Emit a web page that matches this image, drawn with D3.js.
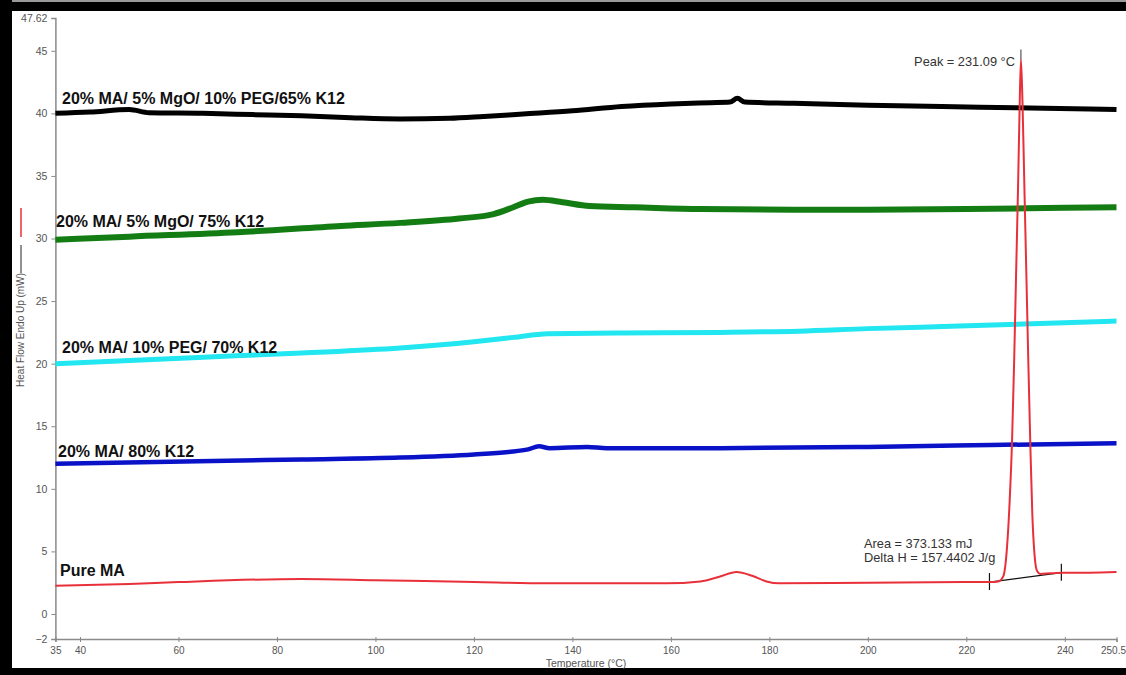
<!DOCTYPE html>
<html>
<head>
<meta charset="utf-8">
<script src="https://cdn.jsdelivr.net/npm/d3@7"></script>
<style>
  html, body { margin: 0; padding: 0; background: #fff; }
  svg { display: block; font-family: "Liberation Sans", Arial, sans-serif; }
</style>
</head>
<body>
<svg id="chart" width="1126" height="675"></svg>
<script>
// ---------- data ----------
const xTicks = [35, 40, 60, 80, 100, 120, 140, 160, 180, 200, 220, 240, 250.5];
const yTicks = [-2, 0, 5, 10, 15, 20, 25, 30, 35, 40, 45, 47.62];

const seriesNames = [
  "20% MA/ 5% MgO/ 10% PEG/65% K12",
  "20% MA/ 5% MgO/ 75% K12",
  "20% MA/ 10% PEG/ 70% K12",
  "20% MA/ 80% K12",
  "Pure MA"
];

const blackT = [35, 42, 50, 54, 65, 75, 85, 95, 105, 115, 122, 130, 140, 150, 160, 168, 172, 173.5, 175, 185, 200, 215, 230, 245, 250.5];
const blackV = [40.0, 40.1, 40.3, 40.05, 40.0, 39.9, 39.8, 39.65, 39.55, 39.6, 39.75, 39.95, 40.2, 40.55, 40.75, 40.85, 40.9, 41.2, 40.9, 40.8, 40.65, 40.55, 40.45, 40.35, 40.3];

const greenT = [35, 50, 72, 93, 105, 117, 124, 128, 131, 134, 138, 143.5, 152.5, 166, 185, 200, 220, 240, 250.5];
const greenV = [29.9, 30.15, 30.5, 31.0, 31.25, 31.6, 31.95, 32.5, 32.95, 33.1, 32.9, 32.6, 32.5, 32.35, 32.3, 32.3, 32.35, 32.45, 32.5];

const cyanT = [35, 64, 85, 105, 120, 128, 135, 150, 170, 186, 200, 218.5, 235, 250.5];
const cyanV = [20.0, 20.5, 20.85, 21.25, 21.75, 22.1, 22.4, 22.45, 22.5, 22.6, 22.8, 23.0, 23.2, 23.4];

const blueT = [35, 64, 85, 105, 120, 127, 131, 133.2, 135.4, 143, 147, 170, 200, 225, 250.5];
const blueV = [12.0, 12.2, 12.35, 12.5, 12.75, 12.95, 13.15, 13.4, 13.25, 13.35, 13.25, 13.25, 13.35, 13.5, 13.65];

const redT = [35, 50, 60, 85, 100, 120, 135, 159, 166, 170, 173.3, 176.5, 179.4, 182, 200, 222, 225, 226.5, 227.5, 228.2, 228.8, 229.3, 229.7, 230.1, 230.5, 230.8, 231.09, 231.4, 231.8, 232.2, 232.6, 233.0, 233.4, 233.8, 234.3, 235, 237, 240, 245, 250.5];
const redV = [2.25, 2.4, 2.55, 2.8, 2.7, 2.55, 2.45, 2.45, 2.6, 3.0, 3.35, 3.05, 2.6, 2.45, 2.5, 2.55, 2.55, 2.6, 3.0, 5.0, 9.0, 14.0, 20.0, 27.0, 34.0, 40.0, 44.3, 41.0, 34.0, 27.0, 20.0, 13.5, 8.0, 5.0, 3.5, 3.2, 3.25, 3.3, 3.3, 3.35];

const baselineT = [224.7, 239.3];
const baselineV = [2.55, 3.3];

const peakT = 231.09;
const peakLabel = "Peak = 231.09 °C";
const areaLabel = "Area = 373.133 mJ";
const deltaLabel = "Delta H = 157.4402 J/g";
const xTitle = "Temperature (°C)";
const yTitle = "Heat Flow Endo Up (mW)";

// ---------- layout ----------
const svg = d3.select("#chart");
const x = d3.scaleLinear().domain([35, 250.5]).range([55.4, 1116.5]);
const y = d3.scaleLinear().domain([-2, 47.62]).range([639, 18]);

// frame bands
svg.append("rect").attr("x", 0).attr("y", 0).attr("width", 1126).attr("height", 2).attr("fill", "#9a9a9a");
svg.append("rect").attr("x", 0).attr("y", 2).attr("width", 1126).attr("height", 9).attr("fill", "#000");
svg.append("rect").attr("x", 0).attr("y", 0).attr("width", 12).attr("height", 675).attr("fill", "#000");
svg.append("rect").attr("x", 0).attr("y", 668).attr("width", 1126).attr("height", 7).attr("fill", "#000");

// axes
const axisColor = "#8a8a8a";
const labelColor = "#555";

const yAxis = d3.axisLeft(y).tickValues(yTicks).tickSize(4).tickPadding(4)
  .tickFormat(d => d === 47.62 ? "47.62" : d3.format("d")(d));
const gy = svg.append("g").attr("transform", "translate(55.4,0)").call(yAxis);
gy.select(".domain").attr("stroke", axisColor).attr("stroke-width", 1.5);
gy.selectAll(".tick line").attr("stroke", axisColor);
gy.selectAll(".tick text").attr("fill", labelColor).style("font-size", "10.5px");

const xAxis = d3.axisBottom(x).tickValues(xTicks).tickSize(3).tickPadding(5)
  .tickFormat(d => d === 250.5 ? "250.5" : d3.format("d")(d));
const gx = svg.append("g").attr("transform", "translate(0,639)").call(xAxis);
gx.select(".domain").attr("stroke", axisColor).attr("stroke-width", 1.5);
gx.selectAll(".tick line").attr("stroke", axisColor).attr("y1", -2);
gx.selectAll(".tick text").attr("fill", labelColor).style("font-size", "10px");
// keep the last label inside the window
gx.selectAll(".tick text").filter(d => d === 250.5).attr("text-anchor", "end").attr("x", 9);

svg.append("text").attr("x", 586).attr("y", 667).attr("text-anchor", "middle")
  .attr("fill", labelColor).style("font-size", "10.5px").text(xTitle);

svg.append("text").attr("transform", "translate(24,330) rotate(-90)").attr("text-anchor", "middle")
  .attr("fill", labelColor).style("font-size", "10px").text(yTitle);

// small legend marks left of y axis
svg.append("line").attr("x1", 21).attr("x2", 21).attr("y1", 208).attr("y2", 237)
  .attr("stroke", "#e8303a").attr("stroke-width", 1.5);
svg.append("line").attr("x1", 21).attr("x2", 21).attr("y1", 245).attr("y2", 273)
  .attr("stroke", "#222").attr("stroke-width", 1);

// lines
const line = d3.line().x(d => x(d[0])).y(d => y(d[1])).curve(d3.curveMonotoneX);
const series = [
  { t: blackT, v: blackV, color: "#000000", w: 5 },
  { t: greenT, v: greenV, color: "#137d14", w: 6 },
  { t: cyanT, v: cyanV, color: "#22e6f0", w: 5 },
  { t: blueT, v: blueV, color: "#0a12c8", w: 4.5 },
];
series.forEach(s => {
  svg.append("path").datum(d3.zip(s.t, s.v)).attr("d", line)
    .attr("fill", "none").attr("stroke", s.color).attr("stroke-width", s.w)
    .attr("stroke-linejoin", "round");
});

// baseline for integration
svg.append("path").datum(d3.zip(baselineT, baselineV)).attr("d", d3.line().x(d => x(d[0])).y(d => y(d[1])))
  .attr("stroke", "#111").attr("stroke-width", 1.2).attr("fill", "none");
baselineT.forEach((t, i) => {
  svg.append("line").attr("x1", x(t)).attr("x2", x(t))
    .attr("y1", y(baselineV[i]) - 9).attr("y2", y(baselineV[i]) + 8)
    .attr("stroke", "#111").attr("stroke-width", 1.2);
});

// red (Pure MA)
svg.append("path").datum(d3.zip(redT, redV)).attr("d", line)
  .attr("fill", "none").attr("stroke", "#e8303a").attr("stroke-width", 2);

// peak marker
svg.append("line").attr("x1", x(peakT)).attr("x2", x(peakT)).attr("y1", y(45.1)).attr("y2", y(44.3))
  .attr("stroke", "#333").attr("stroke-width", 1);
svg.append("text").attr("x", x(peakT) - 6).attr("y", 66).attr("text-anchor", "end")
  .attr("fill", "#333").style("font-size", "12.8px").text(peakLabel);

svg.append("text").attr("x", 864).attr("y", 548).attr("fill", "#333").style("font-size", "12.8px").text(areaLabel);
svg.append("text").attr("x", 864).attr("y", 562).attr("fill", "#333").style("font-size", "12.8px").text(deltaLabel);

// series labels
const labelPos = [
  { x: 62, y: 104, size: 16 },
  { x: 56, y: 227, size: 16 },
  { x: 62, y: 353, size: 16 },
  { x: 58, y: 457, size: 16 },
  { x: 60, y: 576, size: 16 },
];
seriesNames.forEach((n, i) => {
  svg.append("text").attr("x", labelPos[i].x).attr("y", labelPos[i].y)
    .attr("fill", "#111").style("font-size", labelPos[i].size + "px").style("font-weight", "bold").text(n);
});
</script>
</body>
</html>
